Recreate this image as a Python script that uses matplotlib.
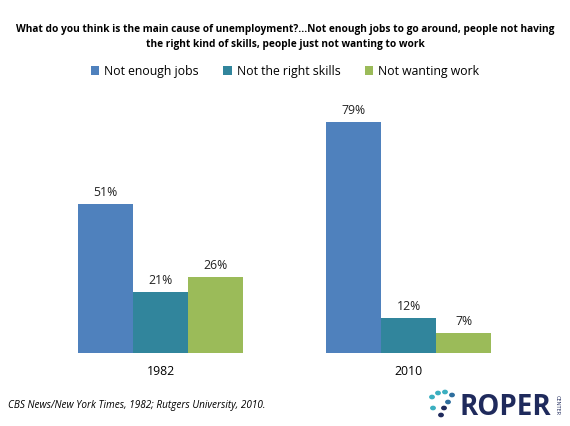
import numpy as np
import matplotlib.pyplot as plt
from matplotlib.patches import Circle

years = ["1982", "2010"]
series = ["Not enough jobs", "Not the right skills", "Not wanting work"]
not_enough_jobs = [51, 79]
not_right_skills = [21, 12]
not_wanting_work = [26, 7]
colors = ["#4F81BD", "#31859C", "#9BBB59"]

title = ("What do you think is the main cause of unemployment?...Not enough jobs to go around, people not having\n"
         "the right kind of skills, people just not wanting to work")
source = "CBS News/New York Times, 1982; Rutgers University, 2010."

plt.rcParams["font.family"] = ["Open Sans", "DejaVu Sans"]

fig = plt.figure(figsize=(5.7, 4.27), dpi=100)
ax = fig.add_axes([36.5 / 570, 73 / 427, 496 / 570, 263 / 427])

x = np.arange(len(years))
w = 0.222
handles = []
for i, (vals, name) in enumerate(zip([not_enough_jobs, not_right_skills, not_wanting_work], series)):
    bars = ax.bar(x + (i - 1) * w, vals, width=w, color=colors[i], label=name)
    handles.append(bars)
    for b, v in zip(bars, vals):
        ax.text(b.get_x() + b.get_width() / 2, v + 2, f"{v}%", ha="center", va="bottom",
                fontsize=8.8, color="#222222")

ax.set_xlim(-0.5, 1.5)
ax.set_ylim(0, 90)
ax.set_yticks([])
ax.set_xticks(x)
ax.set_xticklabels(years, fontsize=8.8)
ax.tick_params(axis="x", length=0, pad=8)
for s in ax.spines.values():
    s.set_visible(False)

fig.text(0.5, 1 - 37 / 427, title, ha="center", va="center", fontsize=7.3,
         fontweight="bold", linespacing=1.45)

fig.legend(handles=handles, loc="center", bbox_to_anchor=(0.5, 1 - 72 / 427), ncol=3,
           frameon=False, fontsize=8.8, handlelength=0.7, handleheight=0.7,
           handletextpad=0.4, columnspacing=2.0)

fig.text(8 / 570, 1 - 406 / 427, source, ha="left", va="center", fontsize=7.2,
         style="italic")

# logo
fig.text(460 / 570, 1 - 408 / 427, "ROPER", ha="left", va="center", fontsize=20,
         fontweight="bold", color="#1F2A5C")
fig.text(557 / 570, 1 - 405 / 427, "CENTER", ha="center", va="center", fontsize=4,
         rotation=-90, color="#1F2A5C")
dots = [(432, 398, "#3AAFC0"), (438, 394, "#3AAFC0"), (445, 393, "#3AAFC0"), (452, 396, "#2E6E9E"),
        (448, 403, "#2E6E9E"), (444, 409, "#1F2A5C"), (441, 416, "#1F2A5C"), (433, 409, "#3AAFC0")]
for dx, dy, c in dots:
    fig.patches.append(Circle((dx / 570, 1 - dy / 427), 2.2 / 570, transform=fig.transFigure,
                              color=c))

fig.savefig("out.png", dpi=100)
